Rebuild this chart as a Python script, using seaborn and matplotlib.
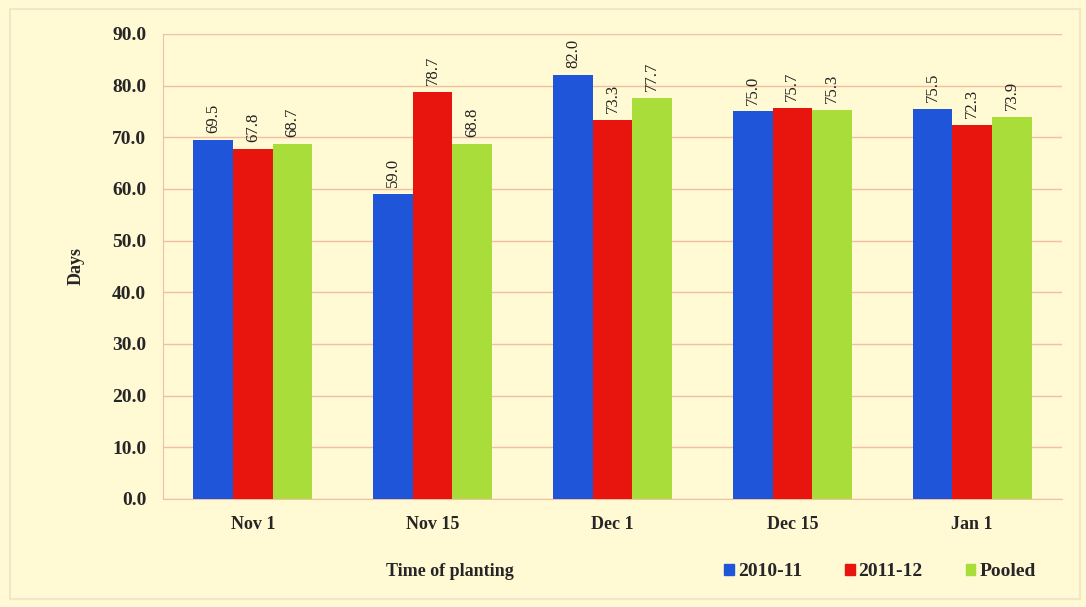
import matplotlib
matplotlib.use("Agg")
import matplotlib.pyplot as plt
import seaborn as sns
import pandas as pd
from matplotlib.patches import Rectangle

categories = ["Nov 1", "Nov 15", "Dec 1", "Dec 15", "Jan 1"]
series_names = ["2010-11", "2011-12", "Pooled"]
v_2010 = [69.5, 59.0, 82.0, 75.0, 75.5]
v_2011 = [67.8, 78.7, 73.3, 75.7, 72.3]
v_pooled = [68.7, 68.8, 77.7, 75.3, 73.9]
yticks = [0, 10, 20, 30, 40, 50, 60, 70, 80, 90]

colors = ["#1F55D8", "#E8150F", "#A9DE3A"]
bg = "#FFF9D4"
gridc = "#F2BFA0"

rows = []
for name, vals in zip(series_names, [v_2010, v_2011, v_pooled]):
    for c, v in zip(categories, vals):
        rows.append({"cat": c, "series": name, "value": v})
df = pd.DataFrame(rows)

sns.set_style("white")
plt.rcParams["font.family"] = ["Liberation Serif", "DejaVu Serif"]

fig = plt.figure(figsize=(10.86, 6.07), dpi=100)
fig.patch.set_facecolor(bg)
ax = fig.add_axes([0.150, 0.178, 0.828, 0.766])
ax.set_facecolor(bg)

sns.barplot(data=df, x="cat", y="value", hue="series", palette=colors,
            width=0.66, saturation=1, ax=ax, legend=False, zorder=3,
            linewidth=0, edgecolor="none")

for cont in ax.containers:
    ax.bar_label(cont, labels=[f"{b.get_height():.1f}" for b in cont],
                 rotation=90, padding=5, fontsize=12, color="#222222")

ax.set_ylim(0, 90)
ax.set_yticks(yticks)
ax.set_yticklabels([f"{t:.1f}" for t in yticks], fontsize=14, fontweight="bold")
ax.set_xlim(-0.5, 4.5)
for lbl in ax.get_xticklabels():
    lbl.set_fontsize(13)
    lbl.set_fontweight("bold")
ax.tick_params(axis="x", length=0, pad=12)
ax.tick_params(axis="y", length=6, color=gridc, direction="out", pad=6)
ax.grid(axis="y", color=gridc, linewidth=1, zorder=0)
ax.set_axisbelow(True)
for s in ["top", "right"]:
    ax.spines[s].set_visible(False)
ax.spines["left"].set_color(gridc)
ax.spines["bottom"].set_color(gridc)
ax.set_xlabel("")
ax.set_ylabel("Days", fontsize=13, fontweight="bold", labelpad=20)

fig.text(450 / 1086, 1 - 572 / 607, "Time of planting", ha="center", va="center",
         fontsize=13, fontweight="bold")

handles = [Rectangle((0, 0), 1, 1, color=c) for c in colors]
leg = fig.legend(handles, series_names, loc="center", bbox_to_anchor=(880 / 1086, 1 - 572 / 607),
                 ncol=3, frameon=False, handlelength=0.5, handleheight=0.5,
                 handletextpad=0.2, columnspacing=2.2,
                 prop={"family": "Liberation Serif", "weight": "bold", "size": 14})

fig.add_artist(Rectangle((10 / 1086, 8 / 607), 1070 / 1086, 590 / 607, transform=fig.transFigure,
                         fill=False, edgecolor="#F3E6C8", linewidth=1.5))

fig.savefig("out.png", dpi=100, facecolor=bg)
